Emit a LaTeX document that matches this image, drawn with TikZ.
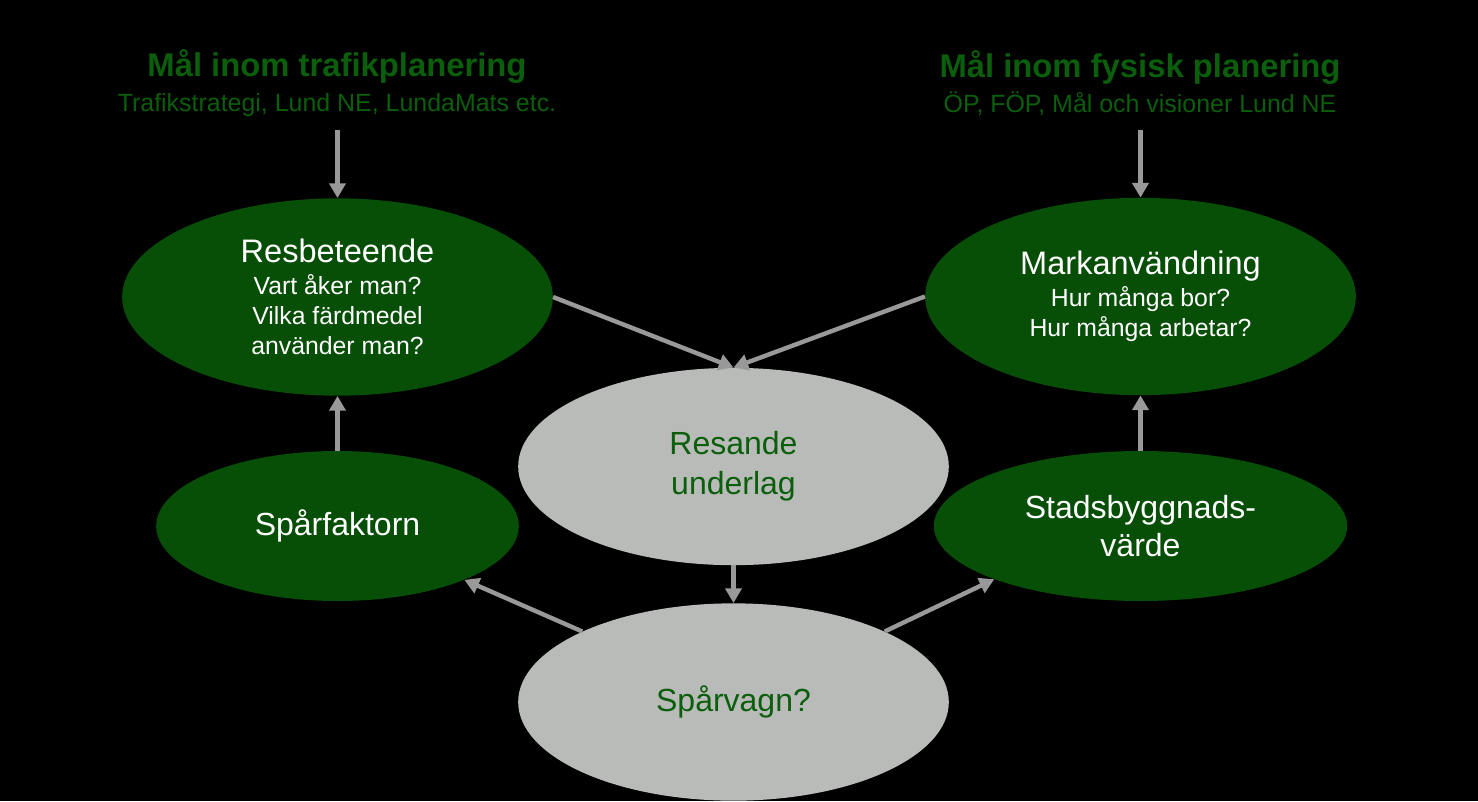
\documentclass[tikz,border=0pt]{standalone}
\usepackage{fontspec}
\setmainfont{Liberation Sans}
\usetikzlibrary{shapes.geometric,arrows.meta}
\definecolor{bubblegreen}{HTML}{074E07}
\definecolor{labelgreen}{HTML}{0B5E0B}
\definecolor{bubblegrey}{HTML}{B9BBB9}
\definecolor{arrowgrey}{HTML}{999999}

\begin{document}
\begin{tikzpicture}[x=0.75pt, y=-0.75pt,
    greenbubble/.style={ellipse, fill=bubblegreen, text=white, inner sep=0pt, align=center},
    bigbubble/.style={minimum width=323pt, minimum height=148pt},
    greybubble/.style={ellipse, fill=bubblegrey, text=labelgreen, inner sep=0pt, align=center,
        bigbubble, font=\fontsize{24}{30}\selectfont},
    goal/.style={align=center, text=labelgreen, font=\fontsize{18.7}{26}\selectfont},
    link/.style={-{Triangle[length=11pt,width=12pt]}, line width=3.3pt, draw=arrowgrey}]
    \fill[black] (0,0) rectangle (1478,801);
    \useasboundingbox (0,0) rectangle (1478,801);

    % goals on top
    \node[goal] (trafikmal) at (337,83) {{\fontsize{24.6}{26}\selectfont\bfseries Mål inom trafikplanering}\\Trafikstrategi, Lund NE, LundaMats etc.};
    \node[goal] (fysiskmal) at (1140,83) {{\fontsize{24.6}{26}\selectfont\bfseries Mål inom fysisk planering}\\ÖP, FÖP, Mål och visioner Lund NE};
    \coordinate (trafikfoot) at (337.5,130);
    \coordinate (fysiskfoot) at (1140.5,130);

    % bubbles
    \node[greenbubble, bigbubble, font=\fontsize{18.6}{22.8}\selectfont] (resbeteende) at (337.5,297) {{\fontsize{24.4}{28}\selectfont Resbeteende}\\[1pt]Vart åker man?\\Vilka färdmedel\\använder man?};
    \node[greenbubble, bigbubble, font=\fontsize{18.6}{22.8}\selectfont] (markanv) at (1140.5,296.5) {{\fontsize{24.4}{28}\selectfont Markanvändning}\\[1pt]Hur många bor?\\Hur många arbetar?};
    \node[greybubble] (resande) at (733.5,466.5) {Resande\\underlag};
    \node[greybubble] (sparvagn) at (733.5,702) {Spårvagn?};
    \node[greenbubble, minimum width=272pt, minimum height=112.5pt, font=\fontsize{24}{29}\selectfont] (sparfaktorn) at (337.5,526) {Spårfaktorn};
    \node[greenbubble, minimum width=310pt, minimum height=112.5pt, font=\fontsize{24}{29}\selectfont] (stadsbygg) at (1140.5,526) {Stadsbyggnads-\\värde};

    % arrows
    \draw[link] (trafikfoot) -- (resbeteende);
    \draw[link] (fysiskfoot) -- (markanv);
    \draw[link] (resbeteende.east) -- (resande.north);
    \draw[link] (markanv.west) -- (resande.north);
    \draw[link] (resande) -- (sparvagn);
    \draw[link] (sparvagn.155) -- (sparfaktorn.-23);
    \draw[link] (sparvagn.25) -- (stadsbygg.200);
    \draw[link] (sparfaktorn) -- (resbeteende);
    \draw[link] (stadsbygg) -- (markanv);
\end{tikzpicture}
\end{document}
